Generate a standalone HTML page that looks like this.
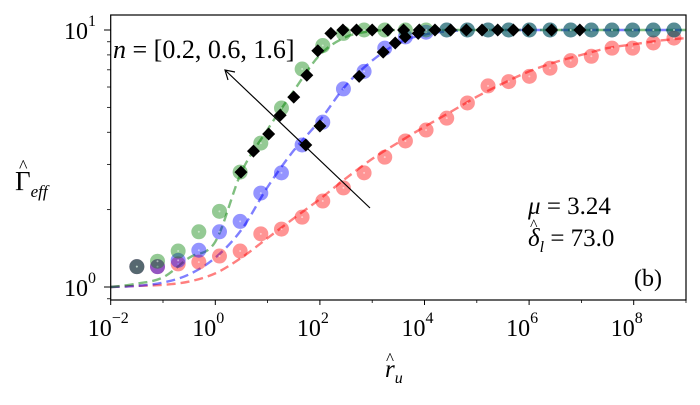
<!DOCTYPE html>
<html><head><meta charset="utf-8"><style>
html,body{margin:0;padding:0;background:#fff;}
svg, svg text{font-family:"Liberation Serif","DejaVu Serif",serif;}
</style></head><body>
<svg id="chart" width="700" height="400" viewBox="0 0 700 400" xmlns="http://www.w3.org/2000/svg" font-family="Liberation Serif, DejaVu Serif, serif">
<g id="plot"></g>
<rect x="110.7" y="15" width="575.3" height="285" fill="none" stroke="#000" stroke-width="1.2"/>
<g id="axes"></g>
<g>
<line x1="370" y1="208" x2="225" y2="70" stroke="#000" stroke-width="1.2"/>
<path d="M235,72 L225,70 L228,80" fill="none" stroke="#000" stroke-width="1.2"/>
<text x="113" y="58" font-size="26"><tspan font-style="italic">n</tspan> = [0.2, 0.6, 1.6]</text>
<text x="528" y="214" font-size="25"><tspan font-style="italic">μ</tspan> = 3.24</text>
<text x="528" y="246" font-size="25"><tspan font-style="italic">δ</tspan><tspan font-size="16" font-style="italic" dy="6">l</tspan><tspan dy="-6"> = 73.0</tspan></text>
<text x="530" y="230" font-size="16">^</text>
<text x="634" y="286" font-size="24">(b)</text>
<text x="385" y="377" font-size="25" font-style="italic">r<tspan font-size="16" dy="6">u</tspan></text>
<text x="386" y="364" font-size="17">^</text>
<text x="15" y="190" font-size="27">Γ<tspan font-size="17" font-style="italic" dy="7">eff</tspan></text>
<text x="19" y="172" font-size="18">^</text>
</g>
</svg>
<script>
const gridLogX = [-2,-1.5,-1,-0.5,0,0.5,1,1.5,2,2.5,3,3.5,4,4.5,5,5.5,6,6.5,7,7.5,8,8.5,9];
const fitGreen = [1.0,1.03,1.09,1.3,1.5,2.8,4.1,5.8,8.0,9.4,9.9,10,10,10,10,10,10,10,10,10,10,10,10];
const fitBlue = [1.0,1.01,1.04,1.12,1.3,1.67,2.45,3.4,4.45,6.1,7.6,8.9,9.6,9.9,10,10,10,10,10,10,10,10,10];
const fitRed = [1.0,1.01,1.02,1.05,1.13,1.3,1.55,1.85,2.2,2.65,3.15,3.65,4.2,4.8,5.5,6.2,6.9,7.5,8.0,8.5,8.8,9.1,9.3];
const pointLogX = [-1.5,-1.105,-0.71,-0.315,0.08,0.475,0.87,1.265,1.66,2.055,2.45,2.845,3.24,3.635,4.03,4.425,4.82,5.215,5.61,6.005,6.4,6.795,7.19,7.585,7.98,8.375,8.77];
const circGreen = [1.2,1.26,1.38,1.64,1.97,2.8,3.63,4.97,7.05,8.7,9.7,10,10,10,10,10,10,10,10,10,10,10,10,10,10,10,10];
const circBlue = [1.2,1.2,1.27,1.39,1.64,1.8,2.32,2.78,3.57,4.38,5.9,6.9,8.5,9.4,9.8,10,10,10,10,10,10,10,10,10,10,10,10];
const circRed = [1.2,1.2,1.23,1.25,1.32,1.38,1.61,1.68,1.87,2.16,2.43,2.78,3.2,3.7,4.08,4.54,5.2,6.06,6.3,6.6,7.1,7.6,7.9,8.5,8.5,8.9,9.3];
const diamondLogX = [0.49,0.73,1.02,1.24,1.5,1.75,1.96,2.21,2.44,2.7,3.0,3.3,3.6,3.9,4.2,4.5,4.8,5.1,5.4,5.7,5.98,6.43,6.97,1.73,2.0,2.75,3.21,3.44,3.63,3.88];
const diamondVal = [2.8,3.38,3.94,4.66,5.48,6.67,8.3,9.7,10,10,10,10,10,10,10,10,10,10,10,10,10,10,10,3.57,4.23,6.6,8.2,8.9,9.4,9.7];
const xTicks = [-2,0,2,4,6,8];
const yTicks = [0,1];

const NS="http://www.w3.org/2000/svg";
const X0=110.7, PXD=52.3, Y0=287, PYD=257;
function sx(lx){return X0+(lx+2)*PXD;}
function sy(v){return Y0-PYD*Math.log10(v);}
const plot=document.getElementById('plot');
const axes=document.getElementById('axes');
function mk(tag,attrs,parent){const e=document.createElementNS(NS,tag);for(const k in attrs)e.setAttribute(k,attrs[k]);parent.appendChild(e);return e;}
const cp=mk('clipPath',{id:'clip'},plot);mk('rect',{x:110.7,y:15,width:575.3,height:285},cp);
const g=mk('g',{'clip-path':'url(#clip)'},plot);
function fit(vals,color,name){
  const pts=gridLogX.map((lx,i)=>[sx(lx),sy(vals[i])]);
  let d='M'+pts[0][0].toFixed(1)+','+pts[0][1].toFixed(1);
  for(let i=0;i<pts.length-1;i++){
    const p0=pts[Math.max(0,i-1)],p1=pts[i],p2=pts[i+1],p3=pts[Math.min(pts.length-1,i+2)];
    const c1=[p1[0]+(p2[0]-p0[0])/6,p1[1]+(p2[1]-p0[1])/6],c2=[p2[0]-(p3[0]-p1[0])/6,p2[1]-(p3[1]-p1[1])/6];
    d+=` C${c1[0].toFixed(1)},${c1[1].toFixed(1)} ${c2[0].toFixed(1)},${c2[1].toFixed(1)} ${p2[0].toFixed(1)},${p2[1].toFixed(1)}`;
  }
  const p=mk('path',{d:d,fill:'none',stroke:color,'stroke-width':2.4,'stroke-dasharray':'9,5','stroke-opacity':0.5},g);
  
  
}
function circles(vals,color,name){
  pointLogX.forEach((lx,i)=>{
    const c=mk('circle',{cx:sx(lx),cy:sy(vals[i]),r:7.5,fill:color,'fill-opacity':0.42},g);
    
    
    mk('circle',{cx:sx(lx),cy:sy(vals[i]),r:1,fill:'#fff','fill-opacity':0.5},g);
  });
}
fit(fitRed,'#ff0000','fit-line-red');
fit(fitBlue,'#0000ff','fit-line-blue');
fit(fitGreen,'#008000','fit-line-green');
circles(circRed,'#ff0000','point-red');
circles(circBlue,'#0000ff','point-blue');
circles(circGreen,'#008000','point-green');
diamondLogX.forEach((lx,i)=>{
  const x=sx(lx),y=sy(diamondVal[i]),s=6.5;
  const p=mk('path',{d:`M${x},${y-s}L${x+s},${y}L${x},${y+s}L${x-s},${y}Z`,fill:'#000'},g);
  
  
});
xTicks.forEach(t=>{
  const x=sx(t);
  mk('line',{x1:x,y1:300,x2:x,y2:305,stroke:'#000','stroke-width':1},axes);
  const tx=mk('text',{x:x-23,y:336,'font-size':24},axes);
  
  
  tx.textContent='10';
  const sp=mk('tspan',{dy:-13,'font-size':16},tx);
  sp.textContent=(t<0?'\u2212':'')+Math.abs(t);
});
for(let t=-1;t<=9;t+=2){mk('line',{x1:sx(t),y1:300,x2:sx(t),y2:303,stroke:'#000','stroke-width':0.8},axes);}
yTicks.forEach(t=>{
  const y=sy(Math.pow(10,t));
  mk('line',{x1:104,y1:y,x2:110.7,y2:y,stroke:'#000','stroke-width':1},axes);
  const tx=mk('text',{x:64,y:y+9,'font-size':24},axes);
  
  
  tx.textContent='10';
  const sp=mk('tspan',{dy:-13,'font-size':16},tx);
  sp.textContent=String(t);
});
[0.9,2,3,4,5,6,7,8,9].forEach(v=>{const y=sy(v);mk('line',{x1:107,y1:y,x2:110.7,y2:y,stroke:'#000','stroke-width':0.8},axes);});
</script>
</body></html>
